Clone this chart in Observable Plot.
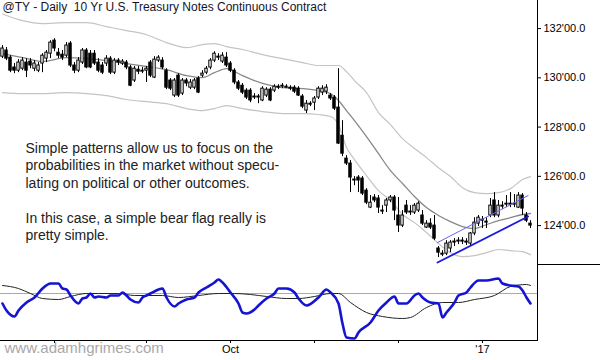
<!DOCTYPE html>
<html><head><meta charset="utf-8">
<script src="https://cdn.jsdelivr.net/npm/d3@7"></script>
<script src="https://cdn.jsdelivr.net/npm/@observablehq/plot@0.6"></script>
<style>
body{margin:0;background:#fff;}
#chart{position:relative;width:600px;height:360px;overflow:hidden;background:#fff;}
#chart svg{display:block;}
#chart text{white-space:pre;}
#sep{position:absolute;left:537px;top:264px;width:63px;height:0;border-top:1px solid #000;}
</style></head><body><div id="chart"></div>
<script>
// ---- daily bars (bar index 0..132, mid-Jul 2016 .. Jan 2017) ----
const open = [
130.86,131.11,130.82,130.42,130.29,130.37,130.62,130.66,130.37,130.29,
130.58,130.78,130.98,131.51,131.02,130.94,130.90,131.39,130.50,130.29,
130.62,131.11,130.98,130.98,130.62,130.50,130.58,130.78,130.21,130.70,
130.58,130.62,130.42,129.89,130.33,130.25,130.29,130.62,130.01,130.70,
130.70,130.29,129.89,129.28,130.09,129.36,129.89,129.60,129.60,129.97,
130.09,130.21,130.42,130.70,130.86,130.66,130.82,130.58,130.29,129.81,
129.68,129.48,129.48,129.24,129.20,129.08,129.28,129.52,129.48,129.64,
129.64,129.60,129.60,129.60,129.56,129.24,128.67,128.95,128.99,129.20,
129.40,129.44,129.28,129.20,128.79,127.65,126.72,126.52,125.87,125.95,
125.91,125.42,124.73,125.14,125.10,124.61,124.81,125.02,125.14,124.41,
124.00,124.81,124.57,124.53,124.61,124.41,123.92,124.08,124.00,123.07,
122.82,122.86,123.07,123.31,123.35,123.39,123.35,123.27,123.68,124.08,
124.24,124.12,124.41,125.02,124.41,124.77,124.85,124.89,124.85,124.73,
125.22,124.41,124.08];
const high = [
131.31,131.23,130.90,130.58,130.74,130.82,130.78,130.78,130.70,130.62,
130.98,131.11,131.51,131.59,131.19,131.11,131.43,131.47,130.62,130.82,
131.19,131.19,131.11,131.11,130.78,130.62,130.90,130.86,130.78,130.78,
130.74,130.70,130.50,130.46,130.46,130.42,130.46,130.70,130.86,130.90,
130.82,130.37,129.97,129.97,130.17,129.97,129.97,129.93,129.97,130.05,
130.29,130.46,130.78,131.06,130.98,131.02,131.02,130.66,130.37,129.89,
129.77,129.56,129.56,129.36,129.32,129.64,129.60,129.60,129.72,129.72,
129.77,129.72,129.68,129.68,129.64,129.32,129.08,129.03,129.24,129.64,
129.68,129.72,129.36,129.28,130.37,128.26,126.84,126.64,125.99,126.03,
125.99,125.50,125.22,125.26,125.22,124.81,125.10,125.22,125.22,125.14,
124.61,125.02,124.81,124.89,124.97,124.61,124.20,124.28,124.41,123.15,
122.98,123.39,123.39,123.47,123.51,123.51,123.47,123.72,124.32,124.41,
124.37,124.32,125.10,125.34,125.02,124.97,125.22,125.34,125.26,125.34,
125.30,124.53,124.20];
const low = [
130.78,130.70,130.21,130.17,130.21,130.29,130.01,130.37,130.25,130.21,
130.21,130.62,130.78,131.06,130.78,130.70,130.82,130.42,130.17,130.21,
130.54,130.37,130.37,130.50,130.21,130.13,130.46,130.13,130.13,130.50,
130.50,130.33,129.64,129.81,130.13,130.17,129.81,130.01,129.97,130.62,
130.33,129.52,129.48,129.20,129.20,129.28,129.64,129.52,129.52,129.36,
130.01,130.13,130.33,130.62,130.70,130.58,130.42,130.21,129.72,129.48,
129.32,129.12,128.99,129.12,128.95,129.03,129.20,129.03,129.40,129.52,
129.56,129.56,129.48,129.36,129.24,128.75,128.55,128.83,128.67,129.12,
129.28,129.32,129.08,128.67,127.29,126.80,126.44,125.34,125.62,125.34,
125.22,124.85,124.69,124.93,124.49,124.45,124.53,124.93,124.20,123.72,
123.92,124.45,124.41,124.45,124.53,124.00,123.88,123.84,123.39,122.70,
122.74,122.78,122.90,123.15,123.23,123.23,123.19,123.19,123.59,123.96,
123.88,123.88,124.32,124.32,124.32,124.65,124.73,124.73,124.73,124.69,
124.41,124.12,123.88];
const close = [
131.19,130.78,130.29,130.29,130.62,130.70,130.29,130.50,130.58,130.50,
130.90,131.02,131.43,131.19,130.90,130.82,131.31,130.50,130.29,130.70,
131.11,130.42,130.42,130.58,130.29,130.21,130.78,130.21,130.70,130.62,
130.66,130.42,129.68,130.37,130.25,130.29,130.37,130.09,130.74,130.82,
130.42,129.60,129.56,129.89,129.28,129.89,129.77,129.81,129.89,129.40,
130.17,130.37,130.70,130.98,130.82,130.90,130.50,130.29,129.81,129.56,
129.40,129.20,129.08,129.20,129.24,129.56,129.52,129.08,129.64,129.60,
129.68,129.64,129.56,129.44,129.28,128.83,128.95,128.91,129.16,129.56,
129.56,129.60,129.16,128.75,127.33,126.92,126.52,125.95,125.83,125.83,
125.30,124.93,124.93,125.02,124.73,124.57,125.02,125.14,124.61,124.00,
124.41,124.53,124.53,124.81,124.89,124.08,124.08,123.92,123.47,122.90,
122.86,123.27,123.31,123.35,123.39,123.35,123.31,123.68,124.12,124.32,
124.20,124.16,124.81,124.41,124.81,124.81,124.89,124.85,124.89,125.22,
124.69,124.20,124.00];

// ---- moving average and envelope bands, read at these bar indices ----
const bandIdx = [0,5,10,16,21,26,31,36,41,46,50,53,56,60,65,70,75,79,82,84,86,88,91,94,97,100,103,106,109,112,115,118,121,124,127,130,132];
const upperBand = [132.59,132.32,132.20,132.24,132.24,132.08,131.92,131.75,131.43,131.23,131.35,131.39,131.27,131.15,130.94,130.78,130.62,130.50,130.50,130.50,130.25,129.89,129.40,128.59,128.10,127.53,127.13,126.76,126.35,125.99,125.54,125.34,125.30,125.34,125.50,125.87,125.99];
const midLine = [130.98,130.82,130.66,130.82,130.78,130.70,130.58,130.46,130.33,130.09,130.01,130.21,130.37,130.09,129.77,129.60,129.56,129.48,129.36,129.08,128.67,128.26,127.61,126.92,126.23,125.71,125.18,124.73,124.41,124.16,123.96,123.88,124.04,124.20,124.32,124.45,124.49];
const lowerBand = [129.40,129.36,129.36,129.40,129.36,129.28,129.12,129.03,128.95,128.75,128.67,128.75,128.87,128.75,128.63,128.55,128.55,128.51,128.43,128.10,127.17,126.68,126.03,125.42,125.02,124.45,124.12,123.72,123.27,122.90,122.74,122.78,122.90,123.03,122.98,122.94,122.82];

// ---- bear flag trendlines ----
const flagIdx = [108.75, 131.4];
const flagUpperPrice = [123.31, 125.22];
const flagLowerPrice = [122.50, 124.37];

// ---- oscillator panel ----
const oscIdx = [0,1,3,4,6,8,10,12,14,15,16,17,19,20,21,22,23,24,26,27,29,30,31,32,34,35,36,37,39,40,41,43,44,46,48,49,51,53,54,55,57,59,60,61,63,64,66,68,69,71,73,74,76,79,81,82,84,85,86,88,89,92,94,96,98,99,101,103,104,105,107,109,110,111,113,114,116,117,119,121,124,125,127,129,130,131,132];
const oscVal = [-1.0,-1.7,-2.3,-1.7,-0.9,-0.4,0.5,1.0,1.0,0.5,0.4,-0.2,-1.0,-0.5,-0.4,0.0,-0.4,-0.3,-0.4,-0.2,-0.2,0.1,-0.2,-0.6,-0.9,-0.4,-0.2,0.0,0.4,0.5,-0.4,-1.3,-1.0,-0.6,-0.4,0.1,0.6,1.1,1.4,1.1,0.1,-1.0,-1.9,-2.0,-1.6,-1.2,-0.5,0.0,0.5,0.5,0.1,-0.5,-1.2,-0.4,0.4,0.1,-1.0,-3.0,-4.4,-4.5,-3.9,-2.9,-1.7,-0.9,-0.3,-1.0,-1.0,-0.2,0.0,-0.4,-0.9,-1.0,-2.4,-1.9,-0.9,-0.2,0.1,0.6,1.3,1.3,1.5,1.0,0.8,0.7,0.3,-0.4,-1.0];
const sigIdx = [0,4,7,10,14,17,21,24,29,33,40,44,49,54,58,62,66,71,74,78,82,84,87,91,95,100,102,106,110,114,118,123,127,131,132];
const sigVal = [0.8,0.5,0.0,-0.5,-0.6,-0.3,0.0,0.0,0.0,-0.2,-0.2,-0.4,-0.2,0.0,0.0,-0.1,-0.3,-0.5,-0.5,-0.3,0.0,0.0,-0.9,-1.9,-2.3,-2.5,-2.4,-1.4,-0.9,-0.9,-0.6,-0.2,0.7,0.9,0.8];

// ---- axes and text ----
const priceTicks = [124,126,128,130,132];
const dateTickIdx = [13,36,57,78,99,120];
const dateTickLabel = ["","","Oct","","","'17"];
const titleText = "@TY - Daily  10 Yr U.S. Treasury Notes Continuous Contract";
const noteText = "Simple patterns allow us to focus on the\nprobabilities in the market without specu-\nlating on political or other outcomes.\n\nIn this case, a simple bear flag really is\npretty simple.";
const watermark = "www.adamhgrimes.com";

// ---- build ----
const bars = open.map((o, i) => ({i, o, h: high[i], l: low[i], c: close[i]}));
const bands = bandIdx.map((i, k) => ({i, u: upperBand[k], m: midLine[k], lo: lowerBand[k]}));
const flagU = flagIdx.map((i, k) => ({i, p: flagUpperPrice[k]}));
const flagL = flagIdx.map((i, k) => ({i, p: flagLowerPrice[k]}));
const osc = oscIdx.map((i, k) => ({i, v: oscVal[k]}));
const sig = sigIdx.map((i, k) => ({i, v: sigVal[k]}));
const xDomain = [-0.5, 133.75];
const font = "'Liberation Sans', Arial, sans-serif";

const topPlot = Plot.plot({
  width: 600, height: 264,
  marginTop: 0, marginBottom: 0, marginLeft: 0, marginRight: 63,
  x: {domain: xDomain, axis: null},
  y: {domain: [122.42, 133.14], axis: "right", ticks: priceTicks,
      tickFormat: d => d + "'00.0", tickSize: 3, tickPadding: 3, line: true, label: null},
  style: {fontFamily: font, fontSize: "11px", color: "#000", background: "#fff", overflow: "visible"},
  marks: [
    Plot.line(bands, {x: "i", y: "u", stroke: "#c4c4c4", strokeWidth: 1.2, curve: "monotone-x"}),
    Plot.line(bands, {x: "i", y: "lo", stroke: "#c4c4c4", strokeWidth: 1.2, curve: "monotone-x"}),
    Plot.line(bands, {x: "i", y: "m", stroke: "#888", strokeWidth: 1.3, curve: "monotone-x"}),
    Plot.ruleX(bars, {x: "i", y1: "l", y2: "h", stroke: "#000", strokeWidth: 1}),
    Plot.rect(bars, {x1: d => d.i - 0.3, x2: d => d.i + 0.3, y1: "o", y2: "c",
      fill: d => d.c > d.o ? "#fff" : "#000", stroke: "#000", strokeWidth: 1}),
    Plot.line(flagU, {x: "i", y: "p", stroke: "#6666ee", strokeWidth: 1}),
    Plot.line(flagL, {x: "i", y: "p", stroke: "#1a1ae0", strokeWidth: 1.8}),
    Plot.text([titleText], {frameAnchor: "top-left", dx: 2, dy: 2, lineAnchor: "top",
      fontSize: 12, fill: "#141428", fontFamily: font}),
    Plot.text([noteText], {frameAnchor: "top-left", dx: 25, dy: 140, lineAnchor: "top",
      lineHeight: 1.25, fontSize: 14, fill: "#222", fontFamily: font})
  ]
});

const botPlot = Plot.plot({
  width: 600, height: 96,
  marginTop: 0, marginBottom: 20, marginLeft: 0, marginRight: 63,
  x: {domain: xDomain, ticks: dateTickIdx, tickFormat: d => dateTickLabel[dateTickIdx.indexOf(d)],
      tickSize: 3, tickPadding: 2, line: true, label: null},
  y: {domain: [-4.7, 2.9], axis: "right", ticks: [], line: true, label: null},
  style: {fontFamily: font, fontSize: "11px", color: "#000", background: "#fff", overflow: "visible"},
  marks: [
    Plot.ruleY([0], {stroke: "#aaa", strokeWidth: 1}),
    Plot.line(sig, {x: "i", y: "v", stroke: "#222", strokeWidth: 1, curve: "monotone-x"}),
    Plot.line(osc, {x: "i", y: "v", stroke: "#1414d2", strokeWidth: 2.6, curve: "monotone-x"}),
    Plot.text([watermark], {frameAnchor: "bottom-left", dx: 4, dy: 12, fontSize: 15,
      fill: "#a8a8a8", fontFamily: font})
  ]
});

const chart = document.getElementById("chart");
chart.appendChild(topPlot);
chart.appendChild(botPlot);
const sep = document.createElement("div");
sep.id = "sep";
chart.appendChild(sep);
</script>
</body></html>
